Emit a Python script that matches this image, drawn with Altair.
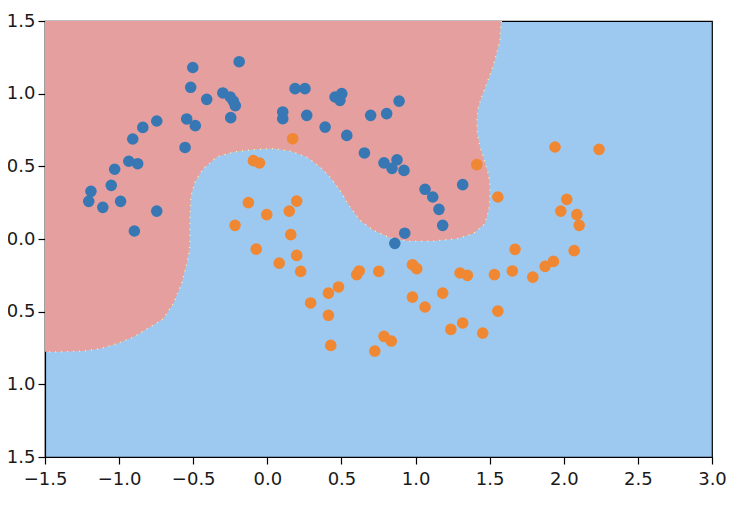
import altair as alt
import pandas as pd

# ---- data ----
blue_x = [-0.19, -0.503, -0.517, -0.409, -0.30, -0.25, -0.229, -0.216, -0.247, -0.544,
          -0.486, -0.555, -0.746, -0.84, -0.908, -0.935, -0.875, -1.03, -1.053, -1.19,
          -1.205, -1.11, -0.99, -0.746, -0.897,
          0.187, 0.254, 0.457, 0.502, 0.49, 0.104, 0.104, 0.266, 0.39, 0.536,
          0.697, 0.805, 0.889, 0.655,
          0.787, 0.875, 0.841, 0.922,
          1.064, 1.116, 1.158, 1.183, 1.318, 0.927, 0.86]
blue_y = [1.22, 1.18, 1.044, 0.961, 1.005, 0.977, 0.948, 0.918, 0.835, 0.826,
          0.78, 0.63, 0.812, 0.768, 0.688, 0.535, 0.518, 0.48, 0.369, 0.328,
          0.259, 0.218, 0.259, 0.192, 0.055,
          1.035, 1.035, 0.977, 1.0, 0.954, 0.874, 0.828, 0.851, 0.77, 0.713,
          0.851, 0.863, 0.949, 0.592,
          0.524, 0.545, 0.486, 0.472,
          0.342, 0.289, 0.204, 0.094, 0.374, 0.04, -0.03]

orange_x = [-0.094, -0.053, -0.128, -0.218, -0.075,
            0.171, 1.413, 1.555, 0.198, 0.148, -0.004, 0.158,
            0.08, 0.198, 0.225, 0.292, 0.412, 0.48, 0.412, 0.428, 0.603, 0.62, 0.752,
            0.979, 1.008, 0.979, 1.064, 1.183, 0.787, 0.836, 0.725, 1.238, 1.318,
            1.453, 1.30, 1.35, 1.532, 1.555,
            1.671, 1.653, 1.791, 1.874, 1.93, 2.07, 1.941, 2.238, 2.02, 1.98, 2.088, 2.104]
orange_y = [0.539, 0.523, 0.25, 0.094, -0.07,
            0.69, 0.512, 0.289, 0.261, 0.192, 0.168, 0.03,
            -0.166, -0.113, -0.223, -0.44, -0.372, -0.33, -0.525, -0.732, -0.245, -0.22, -0.223,
            -0.177, -0.204, -0.40, -0.468, -0.372, -0.67, -0.702, -0.771, -0.622, -0.578,
            -0.647, -0.234, -0.25, -0.245, -0.496,
            -0.071, -0.22, -0.262, -0.188, -0.154, -0.08, 0.633, 0.617, 0.273, 0.192, 0.168, 0.094]

# decision boundary of the red (class 0) region
boundary_x = [1.58, 1.575, 1.57, 1.548, 1.514, 1.48, 1.447, 1.424, 1.413, 1.417, 1.435, 1.457,
              1.491, 1.503, 1.498, 1.469, 1.39, 1.278, 1.12, 0.94, 0.828, 0.715, 0.626, 0.558,
              0.49, 0.423, 0.356, 0.266, 0.153, 0.04, -0.094, -0.184, -0.229, -0.341, -0.432,
              -0.488, -0.517, -0.522, -0.522, -0.526, -0.544, -0.578, -0.634, -0.702, -0.791,
              -0.904, -1.016, -1.129, -1.241, -1.444, -1.5]
boundary_y = [1.5, 1.49, 1.37, 1.28, 1.16, 1.07, 0.98, 0.91, 0.817, 0.725, 0.633, 0.564,
              0.45, 0.357, 0.22, 0.106, 0.037, 0.002, -0.014, -0.014, 0.009, 0.06, 0.128, 0.22,
              0.335, 0.426, 0.495, 0.564, 0.605, 0.622, 0.615, 0.605, 0.598, 0.564, 0.484,
              0.392, 0.289, 0.128, -0.009, -0.078, -0.17, -0.307, -0.445, -0.548, -0.606,
              -0.675, -0.72, -0.755, -0.771, -0.778, -0.775]
corner_x = [-1.5]
corner_y = [1.5]

x_ticks = [-1.5, -1.0, -0.5, 0.0, 0.5, 1.0, 1.5, 2.0, 2.5, 3.0]
y_ticks = [-1.5, -1.0, -0.5, 0.0, 0.5, 1.0, 1.5]
x_domain = [-1.5, 3.0]
y_domain = [-1.5, 1.5]

RED_BG = "#e49f9e"
BLUE_BG = "#9dc9f0"
YELLOW = "#fff59d"
BLUE_PT = "#3778b4"
ORANGE_PT = "#f08732"

# ---- tables ----
poly = pd.DataFrame({
    "x": boundary_x + corner_x,
    "y": boundary_y + corner_y,
    "i": list(range(len(boundary_x) + len(corner_x))),
})
curve = poly.iloc[: len(boundary_x)]

pts = pd.concat([
    pd.DataFrame({"x": blue_x, "y": blue_y, "cls": "0"}),
    pd.DataFrame({"x": orange_x, "y": orange_y, "cls": "1"}),
], ignore_index=True)

xs = alt.Scale(domain=x_domain, nice=False, zero=False)
ys = alt.Scale(domain=y_domain, nice=False, zero=False)
xaxis = alt.Axis(values=x_ticks, format=".1f", title=None, labelPadding=6, labelFlush=False)
yaxis = alt.Axis(values=y_ticks, format=".1f", title=None, labelPadding=3, labelFlush=False)

region = alt.Chart(poly).mark_line(
    fill=RED_BG, color=RED_BG, strokeWidth=0, clip=True
).encode(
    x=alt.X("x:Q", scale=xs, axis=xaxis),
    y=alt.Y("y:Q", scale=ys, axis=yaxis),
    order=alt.Order("i:Q"),
)

edge = alt.Chart(curve).mark_line(
    color=YELLOW, strokeWidth=1.3, strokeDash=[1, 5], clip=True
).encode(
    x=alt.X("x:Q", scale=xs),
    y=alt.Y("y:Q", scale=ys),
    order=alt.Order("i:Q"),
)

dots = alt.Chart(pts).mark_circle(size=135, opacity=1, clip=True).encode(
    x=alt.X("x:Q", scale=xs),
    y=alt.Y("y:Q", scale=ys),
    color=alt.Color("cls:N", scale=alt.Scale(domain=["0", "1"], range=[BLUE_PT, ORANGE_PT]),
                    legend=None),
)

chart = alt.layer(region, edge, dots).properties(
    width=667,
    height=436,
    autosize=alt.AutoSizeParams(type="none"),
    padding={"left": 37, "top": 13, "right": 20, "bottom": 45},
    background="white",
).configure_view(
    fill=BLUE_BG, stroke="black", strokeWidth=1.2
).configure_axis(
    grid=False,
    labelFont="DejaVu Sans",
    labelFontSize=18,
    labelColor="#1a1a1a",
    domainColor="black",
    domainWidth=1.2,
    tickColor="black",
    tickWidth=1.2,
    tickSize=7,
)

chart.save("out.html", embed_options={"renderer": "svg", "actions": False})
